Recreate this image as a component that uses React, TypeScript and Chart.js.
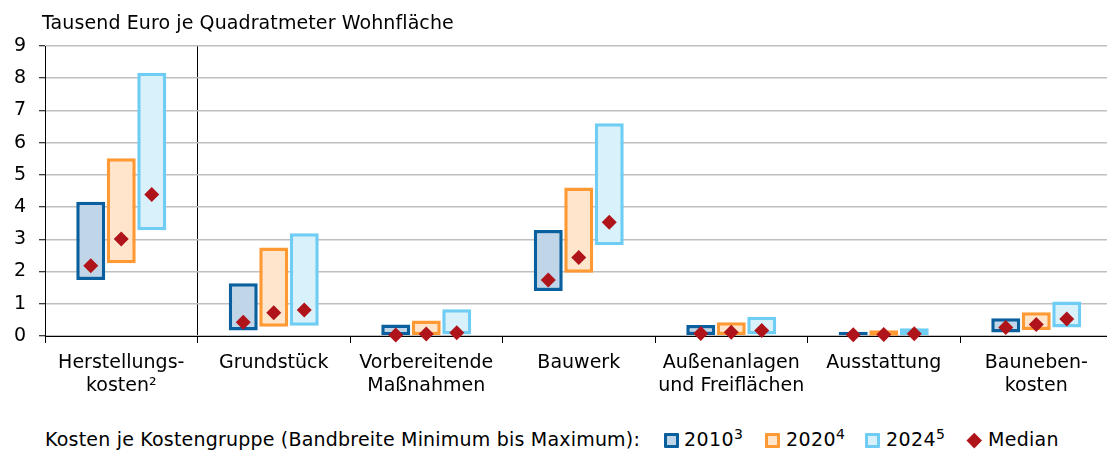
import React, { useEffect, useRef } from "react";
import { Chart, registerables } from "chart.js";

Chart.register(...registerables);

const FONT = "'DejaVu Sans', sans-serif";

const TITLE = "Tausend Euro je Quadratmeter Wohnfläche";
const LEGEND_PREFIX = "Kosten je Kostengruppe (Bandbreite Minimum bis Maximum):";

const categories: (string | string[])[] = [
  ["Herstellungs-", "kosten²"],
  "Grundstück",
  ["Vorbereitende", "Maßnahmen"],
  "Bauwerk",
  ["Außenanlagen", "und Freiflächen"],
  "Ausstattung",
  ["Bauneben-", "kosten"],
];

const yTicks = [0, 1, 2, 3, 4, 5, 6, 7, 8, 9];

const min2010 = [1.74, 0.17, 0.0, 1.4, 0.03, 0.0, 0.11];
const max2010 = [4.17, 1.64, 0.36, 3.29, 0.34, 0.13, 0.55];
const med2010 = [2.18, 0.43, 0.03, 1.74, 0.08, 0.04, 0.26];

const min2020 = [2.26, 0.29, 0.03, 1.96, 0.03, 0.01, 0.19];
const max2020 = [5.52, 2.75, 0.48, 4.61, 0.43, 0.18, 0.74];
const med2020 = [3.01, 0.72, 0.06, 2.44, 0.12, 0.05, 0.36];

const min2024 = [3.28, 0.32, 0.05, 2.82, 0.05, 0.02, 0.26];
const max2024 = [8.17, 3.19, 0.83, 6.6, 0.6, 0.24, 1.07];
const med2024 = [4.39, 0.81, 0.1, 3.53, 0.17, 0.07, 0.53];

const seriesLabels = ["2010", "2020", "2024"];
const seriesSup = ["3", "4", "5"];
const borderColors = ["#0A5F9F", "#FF9933", "#6FCDF3"];
const fillColors = ["#C0D5E7", "#FFE5CC", "#D9F1FB"];
const medianColor = "#B0141B";

// share of a category taken by the group of three boxes
const GROUP_SHARE = 0.6;
const BAR_PCT = 0.95;

export default function App() {
  const ref = useRef<HTMLCanvasElement>(null);

  useEffect(() => {
    const canvas = ref.current;
    if (!canvas) return;
    const mins = [min2010, min2020, min2024];
    const maxs = [max2010, max2020, max2024];
    const meds = [med2010, med2020, med2024];
    const slot = GROUP_SHARE / seriesLabels.length;
    const xOf = (i: number, s: number) => i + (s - 1) * slot;

    const barSets = seriesLabels.map((lab, s) => ({
      type: "bar" as const,
      label: lab,
      data: mins[s].map((m, i) => ({ x: xOf(i, s), y: [m, maxs[s][i]] })),
      backgroundColor: fillColors[s],
      borderColor: borderColors[s],
      borderWidth: 3.5,
      borderSkipped: false,
      grouped: false,
      categoryPercentage: 1,
      barPercentage: BAR_PCT,
      xAxisID: "x",
      yAxisID: "y",
      order: 2,
    }));

    const medianPoints: { x: number; y: number }[] = [];
    meds.forEach((arr, s) => {
      arr.forEach((v, i) => {
        medianPoints.push({ x: xOf(i, s), y: v });
      });
    });

    const catIdx = categories.map((_, i) => i);

    const chart = new Chart(canvas, {
      type: "bar",
      data: {
        datasets: [
          ...barSets,
          {
            type: "scatter",
            label: "Median",
            data: medianPoints,
            xAxisID: "x",
            yAxisID: "y",
            pointStyle: "rectRot",
            pointRadius: 7.5,
            pointHoverRadius: 7.5,
            backgroundColor: medianColor,
            borderColor: medianColor,
            borderWidth: 0,
            clip: false,
            order: 0,
          } as any,
        ],
      },
      options: {
        responsive: false,
        animation: false,
        devicePixelRatio: 1,
        layout: { padding: { top: 46, right: 4, left: 0, bottom: 0 } },
        plugins: {
          legend: { display: false },
          tooltip: { enabled: false },
          title: { display: false },
        },
        scales: {
          x: {
            type: "linear",
            min: -0.5,
            max: 6.5,
            offset: false,
            afterBuildTicks: (s: any) => {
              s.ticks = catIdx.map((v) => ({ value: v }));
            },
            grid: {
              offset: true,
              color: (c: any) => (c.index === 1 ? "#000000" : "rgba(0,0,0,0)"),
              tickColor: "#000000",
              tickLength: 7,
              lineWidth: 1,
              tickWidth: 1,
              drawOnChartArea: true,
            },
            border: { color: "#000000", width: 1 },
            ticks: {
              color: "#000000",
              font: { family: FONT, size: 19, lineHeight: 1.2 },
              padding: 9,
              maxRotation: 0,
              minRotation: 0,
              autoSkip: false,
              callback: (v: any) => categories[Math.round(Number(v))] ?? "",
            },
            afterFit: (s: any) => {
              s.height = 74;
            },
          },
          y: {
            type: "linear",
            min: 0,
            max: 9,
            afterBuildTicks: (s: any) => {
              s.ticks = yTicks.map((v) => ({ value: v }));
            },
            grid: {
              color: "#BFBFBF",
              lineWidth: 1.5,
              tickColor: "#000000",
              tickLength: 6,
              tickWidth: 1,
            },
            border: { color: "#000000", width: 1 },
            ticks: {
              color: "#000000",
              font: { family: FONT, size: 19 },
              padding: 13,
            },
            afterFit: (s: any) => {
              s.width = 45;
            },
          },
        },
      } as any,
    });
    return () => chart.destroy();
  }, []);

  const legendItems = [
    { box: 664, text: 684 },
    { box: 765, text: 786 },
    { box: 865, text: 886 },
  ];

  const textStyle = {
    position: "absolute" as const,
    top: 428,
    fontSize: 19,
    lineHeight: "23px",
    whiteSpace: "nowrap" as const,
  };

  return (
    <div
      style={{
        position: "fixed",
        left: 0,
        top: 0,
        width: 1107,
        height: 450,
        overflow: "hidden",
        background: "#ffffff",
        fontFamily: FONT,
        color: "#000000",
      }}
    >
      <div style={{ position: "absolute", left: 0, top: 0, width: 1120, height: 410 }}>
        <canvas ref={ref} width={1120} height={410} style={{ display: "block", width: 1120, height: 410 }} />
      </div>
      <div
        style={{
          position: "absolute",
          left: 42,
          top: 11,
          fontSize: 19,
          lineHeight: "23px",
          letterSpacing: "0.1px",
          whiteSpace: "nowrap",
        }}
      >
        {TITLE}
      </div>
      <div style={{ ...textStyle, left: 45, letterSpacing: "0.2px" }}>{LEGEND_PREFIX}</div>
      {legendItems.map((it, s) => (
        <React.Fragment key={s}>
          <div
            style={{
              position: "absolute",
              left: it.box,
              top: 433,
              width: 15,
              height: 15,
              boxSizing: "border-box",
              border: `3px solid ${borderColors[s]}`,
              background: fillColors[s],
              borderRadius: 1,
            }}
          />
          <div style={{ ...textStyle, left: it.text, letterSpacing: "0.4px" }}>
            {seriesLabels[s]}
            <span style={{ fontSize: 14, verticalAlign: "super", lineHeight: 0 }}>{seriesSup[s]}</span>
          </div>
        </React.Fragment>
      ))}
      <div
        style={{
          position: "absolute",
          left: 969,
          top: 435,
          width: 10.5,
          height: 10.5,
          background: medianColor,
          transform: "rotate(45deg)",
        }}
      />
      <div style={{ ...textStyle, left: 988, letterSpacing: "0.3px" }}>Median</div>
    </div>
  );
}
